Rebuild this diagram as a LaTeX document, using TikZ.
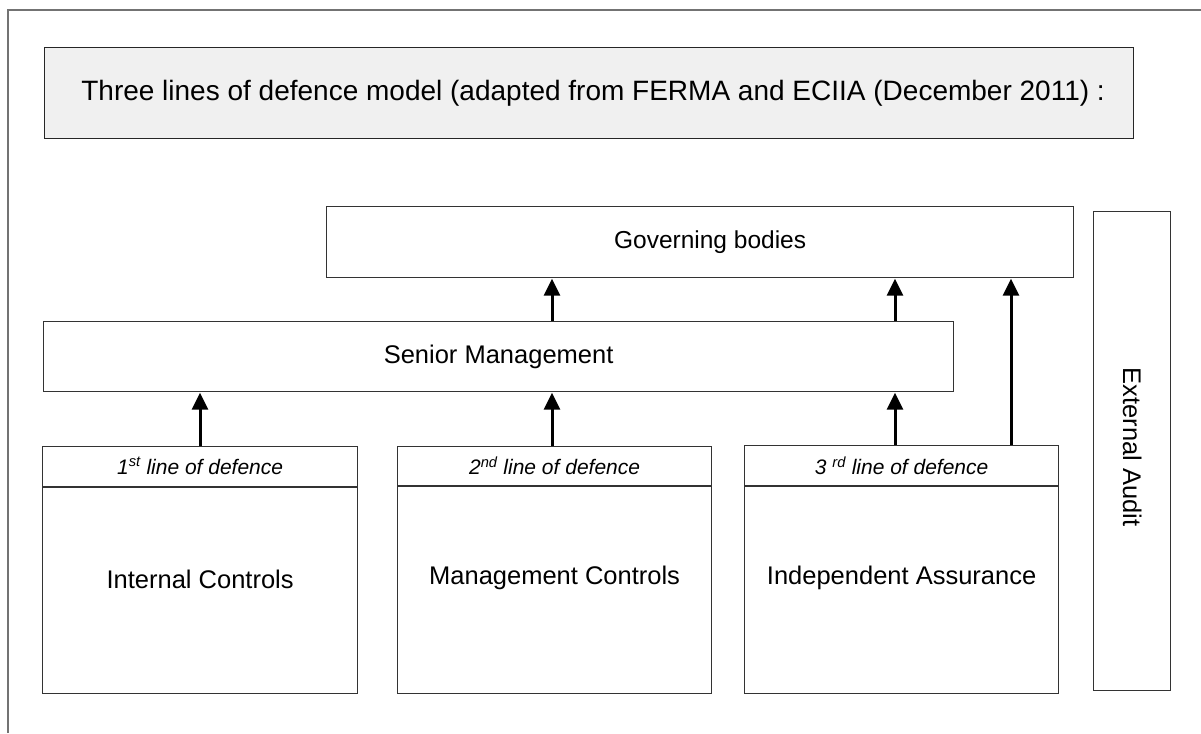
\documentclass[tikz,border=0pt]{standalone}
\usepackage{fontspec}
\setmainfont{Liberation Sans}
\usetikzlibrary{arrows.meta}
\begin{document}
\begin{tikzpicture}[x=1pt,y=-1pt,
  box/.style={draw=black!80, line width=1.2pt, fill=white, anchor=north west, inner sep=0pt},
  lbl/.style={font=\fontsize{25.5}{30}\selectfont, inner sep=0pt},
  hdr/.style={font=\fontsize{21}{25}\selectfont\itshape, inner sep=0pt},
  arr/.style={line width=3pt, -{Triangle[width=16pt,length=17pt]}, shorten >=0.5pt}
]
\useasboundingbox (0,0) rectangle (1201,733);
% outer frame (left and top edges)
\draw[draw=black!55, line width=1.5pt] (8,733) -- (8,10) -- (1201,10);

% title
\node[box, fill=black!6, draw=black!85, minimum width=1089pt, minimum height=91pt] (title) at (44,47) {};
\node[font=\fontsize{28}{32}\selectfont, inner sep=0pt] (titletext) at ([xshift=4pt]title.center) {Three lines of defence model (adapted from FERMA and ECIIA (December 2011) :};

% governing bodies
\node[box, minimum width=747pt, minimum height=71pt] (gov) at (326,206) {};
\node[lbl, font=\fontsize{24.5}{29}\selectfont] (govtext) at ([xshift=10pt]gov.center) {Governing bodies};

% senior management
\node[box, minimum width=910pt, minimum height=70pt] (sm) at (43,321) {};
\node[lbl] (smtext) at (sm.center) {Senior Management};

% external audit
\node[box, minimum width=77pt, minimum height=479pt] (ext) at (1093,211) {};
\node[lbl, rotate=-90] (exttext) at ([yshift=4pt]ext.center) {External Audit};

% three lines
\node[box, minimum width=315pt, minimum height=247pt] (b1) at (42,446) {};
\node[box, minimum width=314pt, minimum height=247pt] (b2) at (397,446) {};
\node[box, minimum width=314pt, minimum height=248pt] (b3) at (744,445) {};

\draw[draw=black!80, line width=1.2pt] (b1.west |- 0,487) -- (b1.east |- 0,487);
\draw[draw=black!80, line width=1.2pt] (b2.west |- 0,486) -- (b2.east |- 0,486);
\draw[draw=black!80, line width=1.2pt] (b3.west |- 0,486) -- (b3.east |- 0,486);

\node[hdr] (h1) at (b1.north |- 0,466) {1\textsuperscript{st} line of defence};
\node[hdr] (h2) at (b2.north |- 0,466) {2\textsuperscript{nd} line of defence};
\node[hdr] (h3) at (b3.north |- 0,466) {3 \textsuperscript{rd} line of defence};

\node[lbl] (l1) at (b1.north |- 0,579) {Internal Controls};
\node[lbl] (l2) at (b2.north |- 0,578) {Management Controls};
\node[lbl] (l3) at (b3.north |- 0,578) {Independent Assurance};

% arrows
\coordinate (ax1) at (200,0);
\coordinate (ax2) at (552,0);
\coordinate (ax3) at (895,0);
\coordinate (ax4) at (1011,0);
\draw[arr] (b1.north -| ax1) -- (sm.south -| ax1);
\draw[arr] (b2.north -| ax2) -- (sm.south -| ax2);
\draw[arr] (b3.north -| ax3) -- (sm.south -| ax3);
\draw[arr] (sm.north -| ax2) -- (gov.south -| ax2);
\draw[arr] (sm.north -| ax3) -- (gov.south -| ax3);
\draw[arr] (b3.north -| ax4) -- (gov.south -| ax4);
\end{tikzpicture}
\end{document}
